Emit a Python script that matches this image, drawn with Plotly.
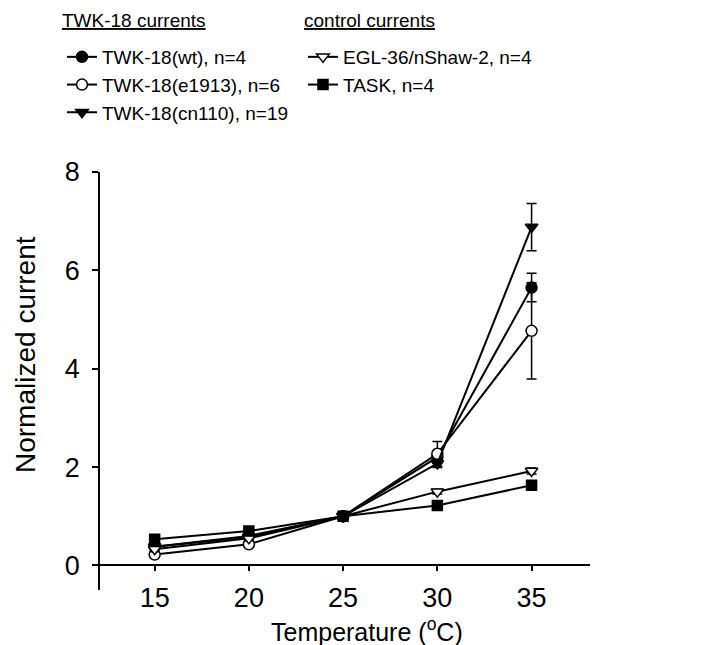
import plotly.graph_objects as go

temps = [15, 20, 25, 30, 35]

wt = [0.38, 0.60, 1.00, 2.20, 5.65]
wt_err = [0.03, 0.04, 0.0, 0.12, 0.29]

e1913 = [0.22, 0.43, 1.00, 2.27, 4.77]
e1913_err = [0.05, 0.05, 0.0, 0.25, 0.98]

cn110 = [0.38, 0.58, 1.00, 2.07, 6.88]
cn110_err = [0.03, 0.04, 0.0, 0.08, 0.48]

egl = [0.33, 0.55, 1.00, 1.50, 1.92]
egl_err = [0.05, 0.05, 0.0, 0.05, 0.06]

task = [0.53, 0.70, 1.00, 1.22, 1.63]
task_err = [0.03, 0.03, 0.0, 0.04, 0.09]

series = [
    ("TWK-18(wt), n=4", wt, wt_err, "circle", "black", "legend"),
    ("TWK-18(e1913), n=6", e1913, e1913_err, "circle", "white", "legend"),
    ("TWK-18(cn110), n=19", cn110, cn110_err, "triangle-down", "black", "legend"),
    ("EGL-36/nShaw-2, n=4", egl, egl_err, "triangle-down", "white", "legend2"),
    ("TASK, n=4", task, task_err, "square", "black", "legend2"),
]

SANS = "Liberation Sans, Arial, sans-serif"

# plot area in pixels
L, R, T, B = 92, 582, 164, 582
PW, PH = R - L, B - T


def px(x):
    return (x - L) / PW


def py(y):
    return (B - y) / PH


fig = go.Figure()
for name, vals, errs, sym, fill, lg in series:
    fig.add_trace(go.Scatter(
        x=temps, y=vals, name=name, mode="lines+markers",
        line=dict(color="black", width=2),
        marker=dict(symbol=sym, size=11 if sym != "square" else 10, color=fill,
                    line=dict(color="black", width=1.5)),
        error_y=dict(type="data", array=errs, visible=True, color="black",
                     thickness=1.5, width=5),
        legend=lg,
    ))

fig.update_layout(
    width=720, height=645,
    margin=dict(l=L, r=720 - R, t=T, b=645 - B),
    paper_bgcolor="white", plot_bgcolor="white",
    font=dict(family=SANS, color="black", size=19),
    xaxis=dict(
        range=[12.1, 38.1], tickvals=temps, ticktext=[str(t) for t in temps],
        showline=True, linecolor="black", linewidth=1.5,
        ticks="outside", ticklen=5, tickwidth=1.5, tickcolor="black",
        showgrid=False, zeroline=False,
        anchor="free", position=0.5 / 8.5,
        tickfont=dict(family=SANS, size=27),
        ticklabelstandoff=3,
    ),
    yaxis=dict(
        range=[-0.5, 8], tickvals=[0, 2, 4, 6, 8],
        showline=True, linecolor="black", linewidth=1.5,
        ticks="outside", ticklen=6, tickwidth=1.5, tickcolor="black",
        showgrid=False, zeroline=False,
        tickfont=dict(family=SANS, size=27),
        ticklabelstandoff=7,
    ),
    legend=dict(x=px(54), y=py(30), xanchor="left", yanchor="top",
                font=dict(family=SANS, size=19), bgcolor="rgba(0,0,0,0)",
                tracegroupgap=0),
    legend2=dict(x=px(295), y=py(30), xanchor="left", yanchor="top",
                 font=dict(family=SANS, size=19), bgcolor="rgba(0,0,0,0)",
                 tracegroupgap=0),
    annotations=[
        dict(text="<u>TWK-18 currents</u>", xref="paper", yref="paper",
             x=px(52), y=py(13), xanchor="left", yanchor="middle",
             showarrow=False, font=dict(family=SANS, size=19)),
        dict(text="<u>control currents</u>", xref="paper", yref="paper",
             x=px(294), y=py(13), xanchor="left", yanchor="middle",
             showarrow=False, font=dict(family=SANS, size=19)),
        dict(text="Temperature (<sup>o</sup>C)", xref="paper", yref="paper",
             x=px(359), y=py(622), xanchor="center", yanchor="middle",
             showarrow=False, font=dict(family=SANS, size=25)),
        dict(text="Normalized current", xref="paper", yref="paper",
             x=px(17), y=py(347), xanchor="center", yanchor="middle",
             textangle=-90, showarrow=False, font=dict(family=SANS, size=28)),
    ],
)

fig.write_html("out.html")
